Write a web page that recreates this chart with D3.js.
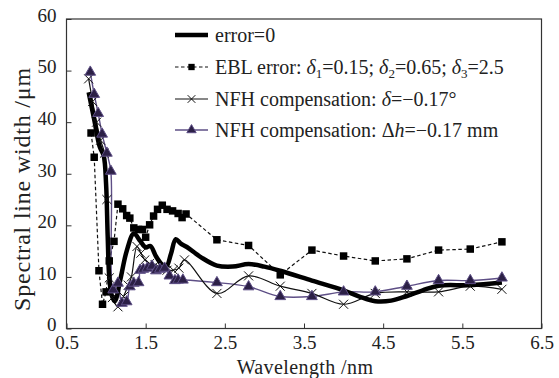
<!DOCTYPE html>
<html><head><meta charset="utf-8">
<script src="https://cdn.jsdelivr.net/npm/d3@7"></script>
<style>
html,body{margin:0;padding:0;background:#fff;}
svg text{font-family:'Liberation Serif','DejaVu Serif',serif;fill:#222;}
</style></head>
<body><svg id="c" width="559" height="378" font-family="Liberation Serif, DejaVu Serif, serif"></svg>
<script>
// ---- data ----
const xTicks = [0.5, 1.5, 2.5, 3.5, 4.5, 5.5, 6.5];
const yTicks = [0, 10, 20, 30, 40, 50, 60];

const err0X = [0.78,0.85,0.92,0.97,1.0,1.02,1.04,1.07,1.11,1.18,1.26,1.35,1.43,1.50,1.56,1.63,1.70,1.76,1.82,1.88,1.94,2.02,2.2,2.4,2.6,2.8,3.0,3.2,3.6,4.0,4.2,4.4,4.6,4.8,5.0,5.2,5.6,6.0];
const err0Y = [45.8,40.5,35.2,33.5,28,18,10,6.5,5.3,9.5,15,18.4,17,15.7,16,14,12.5,12,14.5,17.3,16.5,15.8,13.8,12.2,12.0,12.5,12.0,11.2,9.3,7.4,6.2,5.3,5.4,6.3,7.4,8.3,8.4,8.9];

const eblX = [0.81,0.85,0.91,0.955,1.0,1.04,1.10,1.15,1.21,1.26,1.30,1.35,1.41,1.46,1.50,1.55,1.60,1.65,1.71,1.77,1.84,1.91,1.96,2.01,2.4,2.8,3.2,3.6,4.0,4.4,4.8,5.2,5.6,6.0];
const eblY = [37.9,33.2,11.2,4.7,7.1,13.1,16.9,24.1,23.2,21.9,21.4,19.5,19.2,19.2,17.7,20.1,21.8,23.1,23.9,23.1,22.8,22.3,21.5,22.2,17.2,16.1,10.4,15.2,14.05,13.1,13.5,15.2,15.4,16.8];

const nfhDX = [0.78,0.83,0.88,0.93,0.98,1.01,1.04,1.08,1.15,1.22,1.28,1.32,1.39,1.44,1.49,1.55,1.62,1.68,1.77,1.85,1.92,1.99,2.4,2.8,3.2,3.6,4.0,4.4,4.8,5.2,5.6,6.0];
const nfhDY = [48.4,44,40,36.5,34,25,9.8,6,4.2,6.2,8.4,10,15.9,14.6,13.3,12.6,12.3,11.7,11.3,11.3,11.7,13.3,6.8,10.2,8.2,6.8,4.7,6.8,7.1,7.1,8.2,7.6];

const nfhHX = [0.80,0.85,0.90,0.95,1.01,1.06,1.09,1.15,1.20,1.26,1.30,1.35,1.41,1.43,1.47,1.52,1.58,1.63,1.68,1.74,1.80,1.87,1.91,1.97,2.4,2.8,3.2,3.6,4.0,4.4,4.8,5.2,5.6,6.0];
const nfhHY = [49.7,45.4,41.7,37.7,34.0,30.5,7.5,8.8,4.9,5.2,8.1,8.8,8.9,11.3,11.5,11.7,12.1,11.2,11.5,11.7,10.2,9.3,9.4,9.4,8.9,8.1,6.2,6.2,7.1,7.1,8.2,9.3,9.3,9.8];

// ---- layout ----
const FONT = "Liberation Serif, DejaVu Serif, serif";
const svg = d3.select("#c");
const L = 66.5, R = 541.5, T = 19, B = 328.5;
const x = d3.scaleLinear().domain([0.5, 6.5]).range([L, R]);
const y = d3.scaleLinear().domain([0, 60]).range([B, T]);
const zip = (a, b) => a.map((v, i) => [v, b[i]]);

const purple = "#5e4f86", purpleFill = "#2c2046";

// axes
const gx = svg.append("g").attr("transform", `translate(0,${B})`)
  .call(d3.axisBottom(x).tickValues(xTicks).tickFormat(d3.format(".1f")).tickSize(-5).tickPadding(7));
const gy = svg.append("g").attr("transform", `translate(${L},0)`)
  .call(d3.axisLeft(y).tickValues(yTicks).tickSize(-5).tickPadding(10));
[gx, gy].forEach(g => {
  g.attr("font-family", FONT).attr("font-size", 19);
  g.select(".domain").remove();
  g.selectAll("line").attr("stroke", "#333").attr("stroke-width", 1);
  g.selectAll("text").attr("fill", "#222");
});
gy.selectAll("text").attr("dy", "0.12em");
svg.append("rect").attr("x", L).attr("y", T).attr("width", R - L).attr("height", B - T)
  .attr("fill", "none").attr("stroke", "#333").attr("stroke-width", 1.2);

// lines
const line = d3.line().x(d => x(d[0])).y(d => y(d[1]));
const smooth = d3.line().x(d => x(d[0])).y(d => y(d[1])).curve(d3.curveCatmullRom.alpha(0.5));

svg.append("path").datum(zip(eblX, eblY)).attr("d", line)
  .attr("fill", "none").attr("stroke", "#111").attr("stroke-width", 1.2).attr("stroke-dasharray", "3.5,2.5");
svg.append("path").datum(zip(nfhHX, nfhHY)).attr("d", smooth)
  .attr("fill", "none").attr("stroke", purple).attr("stroke-width", 1.4);
svg.append("path").datum(zip(nfhDX, nfhDY)).attr("d", smooth)
  .attr("fill", "none").attr("stroke", "#111").attr("stroke-width", 1.2);
svg.append("path").datum(zip(err0X, err0Y)).attr("d", smooth)
  .attr("fill", "none").attr("stroke", "#000").attr("stroke-width", 4.5).attr("stroke-linejoin", "round");

// markers
const sq = d3.symbol().type(d3.symbolSquare).size(56);
const tri = d3.symbol().type(d3.symbolTriangle).size(50);
const cross = d3.symbol().type(d3.symbolX).size(55);
function squares(g, pts) {
  g.selectAll(null).data(pts).join("path").attr("d", sq)
    .attr("transform", d => `translate(${x(d[0])},${y(d[1])})`).attr("fill", "#000");
}
function tris(g, pts) {
  g.selectAll(null).data(pts).join("path").attr("d", tri)
    .attr("transform", d => `translate(${x(d[0])},${y(d[1])})`)
    .attr("fill", purpleFill).attr("stroke", purple).attr("stroke-width", 1);
}
function crosses(g, pts) {
  g.selectAll(null).data(pts).join("path").attr("d", cross)
    .attr("transform", d => `translate(${x(d[0])},${y(d[1])})`)
    .attr("fill", "none").attr("stroke", "#111").attr("stroke-width", 1);
}
squares(svg.append("g"), zip(eblX, eblY));
crosses(svg.append("g"), zip(nfhDX, nfhDY));
tris(svg.append("g"), zip(nfhHX, nfhHY));

// legend
const lg = svg.append("g").attr("font-family", FONT);
const lx0 = 175, lx1 = 208, tx = 215, rows = [35, 67, 99, 130];
lg.append("line").attr("x1", lx0).attr("x2", lx1).attr("y1", rows[0]).attr("y2", rows[0]).attr("stroke", "#000").attr("stroke-width", 4.5);
lg.append("line").attr("x1", lx0).attr("x2", lx1).attr("y1", rows[1]).attr("y2", rows[1]).attr("stroke", "#111").attr("stroke-width", 1.2).attr("stroke-dasharray", "3.5,2.5");
lg.append("path").attr("d", d3.symbol().type(d3.symbolSquare).size(40)).attr("transform", `translate(${(lx0+lx1)/2},${rows[1]})`).attr("fill", "#000");
lg.append("line").attr("x1", lx0).attr("x2", lx1).attr("y1", rows[2]).attr("y2", rows[2]).attr("stroke", "#111").attr("stroke-width", 1.2);
lg.append("path").attr("d", d3.symbol().type(d3.symbolX).size(40)).attr("transform", `translate(${(lx0+lx1)/2},${rows[2]})`).attr("fill", "none").attr("stroke", "#111");
lg.append("line").attr("x1", lx0).attr("x2", lx1).attr("y1", rows[3]).attr("y2", rows[3]).attr("stroke", purple).attr("stroke-width", 1.4);
lg.append("path").attr("d", d3.symbol().type(d3.symbolTriangle).size(38)).attr("transform", `translate(${(lx0+lx1)/2},${rows[3]})`).attr("fill", purpleFill).attr("stroke", purple);

function ltext(yy) {
  return lg.append("text").attr("x", tx).attr("y", yy).attr("dy", "0.35em").attr("font-size", 20);
}
ltext(rows[0]).text("error=0");
{
  const t = ltext(rows[1]);
  t.append("tspan").text("EBL error: ");
  t.append("tspan").attr("font-style", "italic").text("δ");
  t.append("tspan").attr("dy", 4).attr("font-size", 13).text("1");
  t.append("tspan").attr("dy", -4).text("=0.15; ");
  t.append("tspan").attr("font-style", "italic").text("δ");
  t.append("tspan").attr("dy", 4).attr("font-size", 13).text("2");
  t.append("tspan").attr("dy", -4).text("=0.65; ");
  t.append("tspan").attr("font-style", "italic").text("δ");
  t.append("tspan").attr("dy", 4).attr("font-size", 13).text("3");
  t.append("tspan").attr("dy", -4).text("=2.5");
}
{
  const t = ltext(rows[2]);
  t.append("tspan").text("NFH compensation: ");
  t.append("tspan").attr("font-style", "italic").text("δ");
  t.append("tspan").text("=−0.17°");
}
{
  const t = ltext(rows[3]);
  t.append("tspan").text("NFH compensation: Δ");
  t.append("tspan").attr("font-style", "italic").text("h");
  t.append("tspan").text("=−0.17 mm");
}

// axis titles
svg.append("text").attr("x", (L + R) / 2 + 1).attr("y", 373.5).attr("text-anchor", "middle")
  .attr("font-size", 20).attr("letter-spacing", 0.4).text("Wavelength /nm");
svg.append("text").attr("transform", `translate(30,189) rotate(-90)`).attr("text-anchor", "middle")
  .attr("font-size", 24).attr("letter-spacing", 0.8).text("Spectral line width /μm");
</script></body></html>
